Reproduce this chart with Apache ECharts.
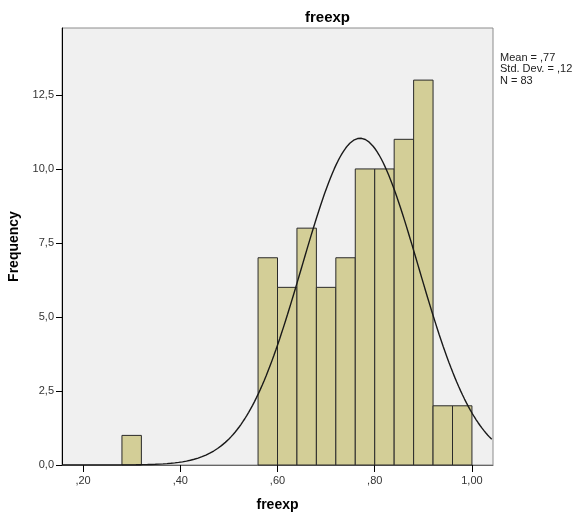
<!DOCTYPE html>
<html>
<head>
<meta charset="utf-8">
<script src="https://cdn.jsdelivr.net/npm/echarts@6/dist/echarts.min.js"></script>
<style>
  html, body { margin: 0; padding: 0; background: #fff; }
  #chart { width: 581px; height: 525px; }
</style>
</head>
<body>
<div id="chart"></div>
<script>
  // bin edges and counts
  const binStarts = [0.28, 0.56, 0.60, 0.64, 0.68, 0.72, 0.76, 0.80, 0.84, 0.88, 0.92, 0.96];
  const binWidth = 0.04;
  const counts = [1, 7, 6, 8, 6, 7, 10, 10, 11, 13, 2, 2];
  // stats from the legend box
  const mean = 0.77;
  const stdDev = 0.12;
  const n = 83;
  const xTicks = [0.2, 0.4, 0.6, 0.8, 1.0];
  const yTicks = [0, 2.5, 5, 7.5, 10, 12.5];

  const xMin = 0.1567, xMax = 1.0433;

  const bars = binStarts.map((s, i) => [s, s + binWidth, counts[i]]);

  // fitted normal curve (scaled to counts per bin)
  const curve = [];
  for (let x = xMin; x <= xMax + 1e-9; x += 0.004) {
    const z = (x - mean) / stdDev;
    curve.push([x, n * binWidth / (stdDev * Math.sqrt(2 * Math.PI)) * Math.exp(-0.5 * z * z)]);
  }

  const font = 'Liberation Sans, Arial, sans-serif';
  let chart = echarts.init(document.getElementById('chart'));
  chart.setOption({
    animation: false,
    textStyle: { fontFamily: font },
    title: {
      text: 'freexp',
      left: 300,
      top: 5,
      textStyle: { fontSize: 15, fontWeight: 'bold', color: '#000', fontFamily: font }
    },
    grid: {
      left: 62, right: 88, top: 28, bottom: 60,
      outerBoundsMode: 'none',
      containLabel: false,
      show: true,
      backgroundColor: '#f0f0f0',
      borderColor: '#8c8c8c',
      borderWidth: 1
    },
    xAxis: {
      type: 'value',
      min: xMin,
      max: xMax,
      name: 'freexp',
      nameLocation: 'middle',
      nameGap: 33,
      nameTextStyle: { fontSize: 14, fontWeight: 'bold', color: '#000' },
      splitLine: { show: false },
      axisLine: { show: true, onZero: false, lineStyle: { color: '#666', width: 1 } },
      axisTick: { show: true, customValues: xTicks, length: 7, lineStyle: { color: '#000' } },
      axisLabel: {
        customValues: xTicks,
        color: '#333',
        fontSize: 11,
        margin: 10,
        formatter: v => v.toFixed(2).replace('.', ',').replace(/^0/, '')
      }
    },
    yAxis: {
      type: 'value',
      min: 0,
      max: 14.76,
      name: 'Frequency',
      nameLocation: 'middle',
      nameGap: 41,
      nameTextStyle: { fontSize: 14, fontWeight: 'bold', color: '#000' },
      splitLine: { show: false },
      axisLine: { show: true, lineStyle: { color: '#000', width: 1 } },
      axisTick: { show: true, customValues: yTicks, length: 6, lineStyle: { color: '#000' } },
      axisLabel: {
        customValues: yTicks,
        color: '#333',
        fontSize: 11,
        margin: 8,
        formatter: v => v.toFixed(1).replace('.', ',')
      }
    },
    graphic: [{
      type: 'text',
      left: 500,
      top: 52,
      style: {
        text: 'Mean = ,77\nStd. Dev. = ,12\nN = 83',
        font: '11px ' + font,
        lineHeight: 11.5,
        fill: '#222'
      }
    }],
    series: [{
      type: 'custom',
      data: bars,
      encode: { x: [0, 1], y: 2 },
      renderItem: (params, api) => {
        const p0 = api.coord([api.value(0), 0]);
        const p1 = api.coord([api.value(1), api.value(2)]);
        return {
          type: 'rect',
          shape: { x: p0[0], y: p1[1], width: p1[0] - p0[0], height: p0[1] - p1[1] },
          style: { fill: '#d3ce97', stroke: '#2a2a2a', lineWidth: 1 }
        };
      }
    }, {
      type: 'line',
      data: curve,
      showSymbol: false,
      smooth: false,
      lineStyle: { color: '#1a1a1a', width: 1.4 },
      z: 5
    }]
  });
</script>
</body>
</html>
